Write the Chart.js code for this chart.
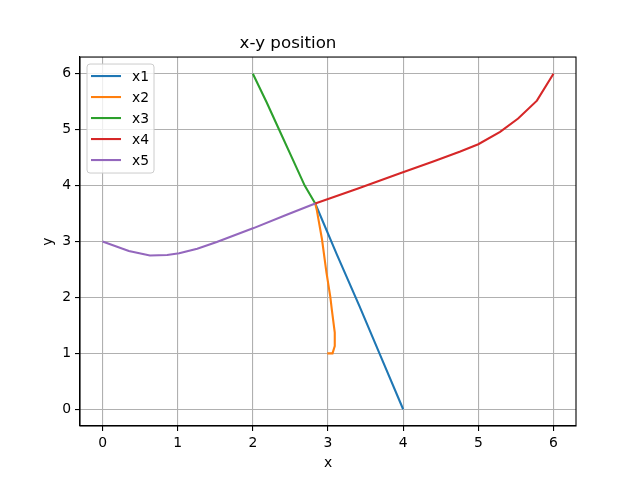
<!DOCTYPE html>
<html>
<head>
<meta charset="utf-8">
<script src="https://cdn.jsdelivr.net/npm/chart.js@4.4.1/dist/chart.umd.min.js"></script>
<style>
html,body{margin:0;padding:0;background:#fff;}
#wrap{width:639px;height:479px;position:relative;}
</style>
</head>
<body>
<div id="wrap"><canvas id="c" width="639" height="479"></canvas></div>
<script>
const seriesNames = ["x1","x2","x3","x4","x5"];
const seriesColors = ["#1f77b4","#ff7f0e","#2ca02c","#d62728","#9467bd"];
const x1x = [4.00, 3.71, 3.42, 3.12, 2.83];
const x1y = [0.00, 0.92, 1.84, 2.76, 3.68];
const x2x = [2.99, 3.06, 3.09, 3.09, 3.05, 3.03, 2.98, 2.92, 2.85, 2.83];
const x2y = [1.00, 1.00, 1.13, 1.37, 1.79, 2.02, 2.44, 3.04, 3.57, 3.68];
const x3x = [2.00, 2.18, 2.35, 2.52, 2.69, 2.83];
const x3y = [6.00, 5.50, 5.00, 4.50, 4.00, 3.68];
const x4x = [2.83, 3.40, 3.96, 4.40, 4.76, 5.00, 5.29, 5.53, 5.78, 6.00];
const x4y = [3.68, 3.95, 4.22, 4.43, 4.61, 4.74, 4.96, 5.20, 5.52, 6.00];
const x5x = [0.00, 0.35, 0.63, 0.86, 1.02, 1.26, 1.52, 2.01, 2.45, 2.83];
const x5y = [3.00, 2.83, 2.75, 2.76, 2.79, 2.87, 2.99, 3.24, 3.48, 3.68];
const xTicks = [0,1,2,3,4,5,6];
const yTicks = [0,1,2,3,4,5,6];
const axisMin = -0.3, axisMax = 6.3;

const allX = [x1x,x2x,x3x,x4x,x5x];
const allY = [x1y,x2y,x3y,x4y,x5y];

const FONT = "'DejaVu Sans', sans-serif";

const datasets = seriesNames.map((n,i)=>({
  label: n,
  data: allX[i].map((v,j)=>({x:v,y:allY[i][j]})),
  borderColor: seriesColors[i],
  backgroundColor: seriesColors[i],
  borderWidth: 2.1,
  pointRadius: 0,
  pointHoverRadius: 0,
  showLine: true,
  fill: false,
  tension: 0,
  order: seriesNames.length - i
}));

const frameAndLegend = {
  id: 'frameAndLegend',
  afterDatasetsDraw(chart){
    const {ctx, chartArea:a} = chart;
    ctx.save();
    ctx.strokeStyle = '#000';
    ctx.lineWidth = 1.1;
    ctx.strokeRect(a.left, a.top, a.right-a.left, a.bottom-a.top);
    // legend
    const bx = a.left + 7, by = a.top + 7, bw = 67, bh = 109;
    const r = 3;
    ctx.beginPath();
    ctx.moveTo(bx+r,by);
    ctx.lineTo(bx+bw-r,by); ctx.quadraticCurveTo(bx+bw,by,bx+bw,by+r);
    ctx.lineTo(bx+bw,by+bh-r); ctx.quadraticCurveTo(bx+bw,by+bh,bx+bw-r,by+bh);
    ctx.lineTo(bx+r,by+bh); ctx.quadraticCurveTo(bx,by+bh,bx,by+bh-r);
    ctx.lineTo(bx,by+r); ctx.quadraticCurveTo(bx,by,bx+r,by);
    ctx.closePath();
    ctx.fillStyle = 'rgba(255,255,255,0.8)';
    ctx.fill();
    ctx.strokeStyle = '#cccccc';
    ctx.lineWidth = 1;
    ctx.stroke();
    ctx.font = '13.9px ' + FONT;
    ctx.textBaseline = 'middle';
    ctx.textAlign = 'left';
    chart.data.datasets.forEach((d,i)=>{
      const y = by + 12 + i*21;
      ctx.strokeStyle = d.borderColor;
      ctx.lineWidth = 2.1;
      ctx.beginPath();
      ctx.moveTo(bx+4, y); ctx.lineTo(bx+34, y);
      ctx.stroke();
      ctx.fillStyle = '#000';
      ctx.fillText(d.label, bx+45, y+1);
    });
    ctx.restore();
  }
};

const fixTicks = (arr)=> (scale)=>{ scale.ticks = arr.map(v=>({value:v})); };

new Chart(document.getElementById('c'), {
  type: 'scatter',
  data: { datasets },
  options: {
    responsive: false,
    animation: false,
    devicePixelRatio: 1,
    layout: { padding: { left: 0, right: 63, top: 0, bottom: 0 } },
    plugins: {
      legend: { display: false },
      tooltip: { enabled: false },
      title: {
        display: true,
        text: 'x-y position',
        color: '#000',
        font: { family: FONT, size: 16.7, weight: 'normal' },
        padding: { top: 34, bottom: 3 }
      }
    },
    scales: {
      x: {
        type: 'linear',
        min: axisMin, max: axisMax,
        afterBuildTicks: fixTicks(xTicks),
        afterFit(s){ s.height = 53; },
        grid: { color: '#b0b0b0', lineWidth: 1.1, tickColor: '#000', tickLength: 5, drawTicks: true },
        border: { display: true, color: '#000', width: 1.1 },
        ticks: { color: '#000', padding: 4, maxRotation: 0, font: { family: FONT, size: 13.9 } },
        title: { display: true, text: 'x', color: '#000', font: { family: FONT, size: 13.9 }, padding: { top: 0, bottom: 7 } }
      },
      y: {
        type: 'linear',
        min: axisMin, max: axisMax,
        afterBuildTicks: fixTicks(yTicks),
        afterFit(s){ s.width = 80; },
        grid: { color: '#b0b0b0', lineWidth: 1.1, tickColor: '#000', tickLength: 5, drawTicks: true },
        border: { display: true, color: '#000', width: 1.1 },
        ticks: { color: '#000', padding: 4, font: { family: FONT, size: 13.9 } },
        title: { display: true, text: 'y', color: '#000', font: { family: FONT, size: 13.9 }, padding: { top: 40, bottom: 0 } }
      }
    }
  },
  plugins: [frameAndLegend]
});
</script>
</body>
</html>
